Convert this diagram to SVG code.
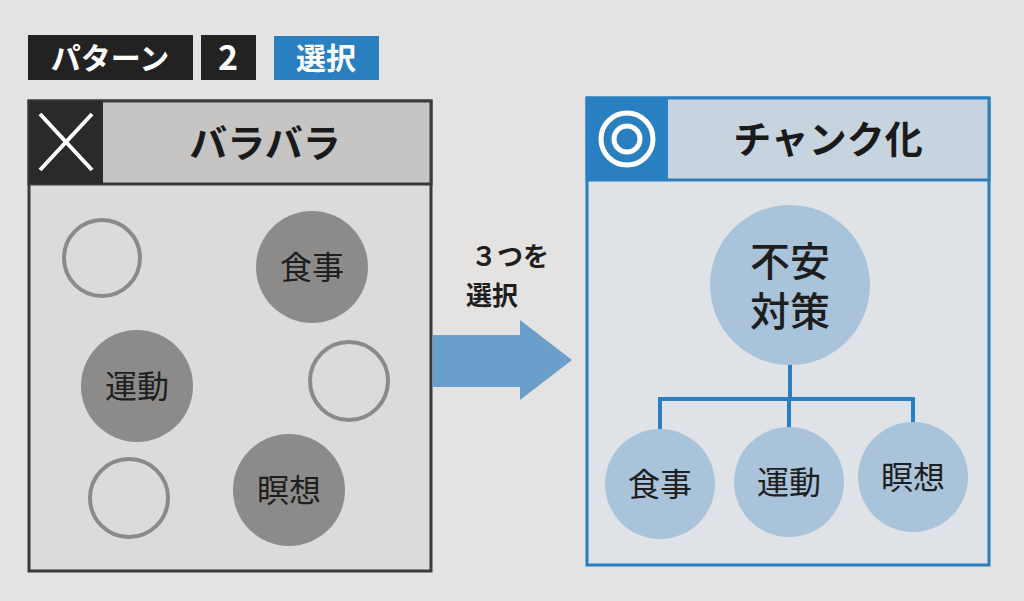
<svg xmlns="http://www.w3.org/2000/svg" width="1024" height="601" viewBox="0 0 1024 601">
<style>
text{font-family:"Noto Sans CJK JP","Noto Sans",sans-serif;}
.hd{fill:#fff;font-weight:bold;font-size:30px;text-anchor:middle;}
.ti{fill:#1a1a1a;font-weight:bold;font-size:38px;text-anchor:middle;}
.empty{fill:none;stroke:#8a8a8a;stroke-width:4;}
.gray{fill:#8c8b8a;}
.blue{fill:#a9c3da;}
.lbl{fill:#1e1e1e;font-size:32px;text-anchor:middle;}
.big{fill:#1e1e1e;font-size:40px;font-weight:500;text-anchor:middle;}
</style>
<rect width="1024" height="601" fill="#e4e3e1"/>
<g id="tag1"><rect x="28" y="35" width="165" height="45" fill="#222"/><text class="hd" x="110" y="69">パターン</text></g>
<g id="tag2"><rect x="201" y="35" width="55" height="45" fill="#222"/><text class="hd" x="228" y="70" style="font-size:34px">2</text></g>
<g id="tag3"><rect x="274" y="36" width="105" height="44" fill="#2a7fc0"/><text class="hd" x="326" y="69">選択</text></g>
<g id="left">
<rect x="29" y="101" width="402" height="470" fill="#dcdbd9" stroke="#3a3a3a" stroke-width="3"/>
<rect x="29" y="101" width="402" height="83" fill="#c6c5c3" stroke="#3a3a3a" stroke-width="3"/>
<rect x="29" y="101" width="74" height="83" fill="#2a2a2a"/>
<path d="M40 114 L92 170 M92 114 L40 170" stroke="#fff" stroke-width="4"/>
<text class="ti" x="265" y="157">バラバラ</text>
</g>
<g id="c1"><circle class="empty" cx="102" cy="258" r="38"/></g>
<g id="c2"><circle class="gray" cx="312" cy="267" r="56"/><text class="lbl" x="312" y="279">食事</text></g>
<g id="c3"><circle class="gray" cx="137" cy="386" r="56"/><text class="lbl" x="137" y="398">運動</text></g>
<g id="c4"><circle class="empty" cx="349" cy="381" r="39"/></g>
<g id="c5"><circle class="empty" cx="129" cy="498" r="39"/></g>
<g id="c6"><circle class="gray" cx="289" cy="490" r="56"/><text class="lbl" x="289" y="502">瞑想</text></g>
<g id="arrow">
<path d="M433 335 H520 V320 L572 360 L520 400 V387 H433 Z" fill="#6b9fcb"/>
<text class="lbl" x="510" y="266" style="font-weight:bold;font-size:26px">３つを</text>
<text class="lbl" x="492" y="305" style="font-weight:bold;font-size:26px">選択</text>
</g>
<g id="right">
<rect x="587" y="98" width="402" height="467" fill="#dfe2e6" stroke="#2a7fc0" stroke-width="3"/>
<rect x="587" y="98" width="402" height="82" fill="#c7d3df" stroke="#2a7fc0" stroke-width="3"/>
<rect x="587" y="98" width="81" height="82" fill="#2a7fc0"/>
<circle cx="627" cy="139" r="26" fill="none" stroke="#fff" stroke-width="5"/>
<circle cx="627" cy="139" r="13" fill="none" stroke="#fff" stroke-width="5"/>
<text class="ti" x="828" y="153">チャンク化</text>
</g>
<g id="connectors" stroke="#2a7fc0" stroke-width="4" fill="none">
<path d="M790 360 V399 M660 430 V399 H913 V425 M789 399 V430"/>
</g>
<g id="root"><circle class="blue" cx="790" cy="285" r="80"/><text class="big" x="790" y="276">不安</text><text class="big" x="790" y="326">対策</text></g>
<g id="n1"><circle class="blue" cx="660" cy="484" r="55"/><text class="lbl" x="660" y="496">食事</text></g>
<g id="n2"><circle class="blue" cx="789" cy="482" r="55"/><text class="lbl" x="789" y="494">運動</text></g>
<g id="n3"><circle class="blue" cx="913" cy="477" r="55"/><text class="lbl" x="913" y="489">瞑想</text></g>
</svg>
